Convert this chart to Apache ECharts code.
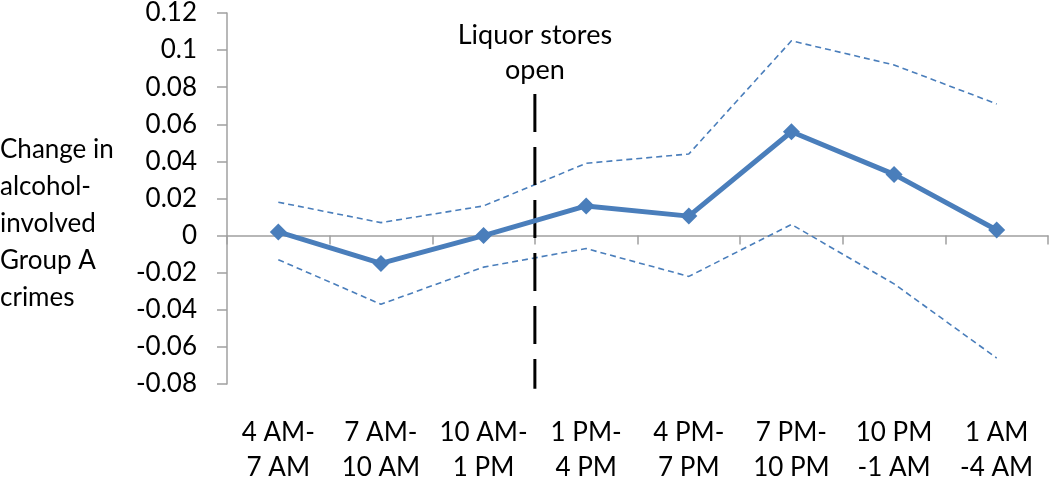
<!DOCTYPE html>
<html>
<head>
<meta charset="utf-8">
<script src="https://cdn.jsdelivr.net/npm/echarts@6/dist/echarts.min.js"></script>
<style>
  html, body { margin: 0; padding: 0; background: #fff; }
  #chart { width: 1050px; height: 485px; }
</style>
</head>
<body>
<div id="chart"></div>
<script>
// time windows (x axis)
const categories = ['4 AM-\n7 AM', '7 AM-\n10 AM', '10 AM-\n1 PM', '1 PM-\n4 PM',
  '4 PM-\n7 PM', '7 PM-\n10 PM', '10 PM\n-1 AM', '1 AM\n-4 AM'];
// point estimate and confidence bounds
const estimate = [0.002, -0.015, 0.000, 0.016, 0.0105, 0.056, 0.033, 0.003];
const upperCI = [0.018, 0.007, 0.016, 0.039, 0.044, 0.105, 0.092, 0.071];
const lowerCI = [-0.013, -0.037, -0.017, -0.007, -0.022, 0.006, -0.026, -0.066];
// liquor stores open between 10 AM-1 PM and 1 PM-4 PM (boundary after 3rd window)
const openBoundary = 3;
const openLineRange = [0.0763, -0.0826]; // top to bottom

const blue = '#4a7ebb';
const font = 'Lato, "Open Sans", sans-serif';
const fs = 26;

const chart = echarts.init(document.getElementById('chart'));

chart.setOption({
  animation: false,
  grid: { left: 227, right: 2, top: 10, bottom: 95 },
  xAxis: [
    {
      type: 'category',
      data: categories,
      boundaryGap: true,
      axisLine: { onZero: true, lineStyle: { color: '#a0a0a0', width: 1.5 } },
      axisTick: { show: true, length: 9, lineStyle: { color: '#a0a0a0', width: 1.5 } },
      axisLabel: { show: false }
    },
    {
      type: 'category',
      data: categories,
      position: 'bottom',
      axisLine: { show: false },
      axisTick: { show: false },
      axisLabel: {
        margin: 31, fontSize: fs, lineHeight: 35, color: '#000',
        fontFamily: font, interval: 0
      }
    },
    {
      type: 'value', min: 0, max: categories.length, show: false
    }
  ],
  yAxis: {
    type: 'value',
    min: -0.08,
    max: 0.12,
    interval: 0.02,
    splitLine: { show: false },
    axisLine: { show: true, lineStyle: { color: '#a0a0a0', width: 1.5 } },
    axisTick: { show: true, length: 10, lineStyle: { color: '#a0a0a0', width: 1.5 } },
    axisLabel: {
      margin: 30, fontSize: fs, color: '#000', fontFamily: font,
      formatter: v => String(Math.round(v * 100) / 100)
    }
  },
  graphic: [{
    type: 'text',
    left: 0,
    top: 131,
    style: {
      text: 'Change in\nalcohol-\ninvolved\nGroup A\ncrimes',
      width: 117,
      align: 'center',
      font: fs + 'px ' + font,
      lineHeight: 37,
      fill: '#000'
    }
  }],
  series: [
    {
      type: 'line',
      data: upperCI,
      symbol: 'none',
      lineStyle: { color: blue, width: 1.6, type: [6, 4] },
      z: 2
    },
    {
      type: 'line',
      data: lowerCI,
      symbol: 'none',
      lineStyle: { color: blue, width: 1.6, type: [6, 4] },
      z: 2
    },
    {
      type: 'line',
      data: estimate,
      symbol: 'diamond',
      symbolSize: 17,
      itemStyle: { color: blue },
      lineStyle: { color: blue, width: 5 },
      z: 4
    },
    {
      type: 'line',
      xAxisIndex: 2,
      clip: false,
      data: [[openBoundary, openLineRange[0]], [openBoundary, openLineRange[1]]],
      symbol: 'circle',
      symbolSize: 1,
      showSymbol: true,
      itemStyle: { color: 'rgba(0,0,0,0)' },
      lineStyle: { color: '#000', width: 3, type: [38, 15] },
      label: {
        show: true,
        position: 'top',
        distance: 6,
        formatter: p => (p.dataIndex === 0 ? 'Liquor stores\nopen' : ''),
        fontSize: 27,
        lineHeight: 35,
        color: '#000',
        fontFamily: font
      },
      z: 3
    }
  ]
});
</script>
</body>
</html>
